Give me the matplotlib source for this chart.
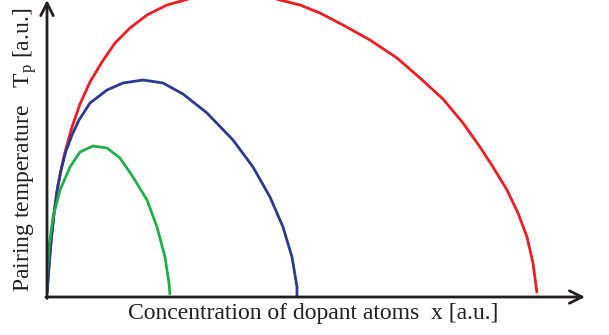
import matplotlib
matplotlib.use("Agg")
import matplotlib.pyplot as plt

# curve points (x, T in a.u., origin at the axes corner)
red_x = [0, 2, 4, 7, 11, 17, 25, 33, 43, 55, 68, 83, 100, 120, 138, 160, 185, 210, 233,
         253, 273, 296, 323, 350, 373, 396, 416, 433, 446, 460, 471, 480, 486, 490]
red_y = [4, 30, 55, 84, 112, 141, 170, 193, 215, 235, 254, 269, 282, 292, 297, 303, 305, 303, 297,
         292, 284, 272, 257, 239, 219, 198, 174, 150, 130, 107, 84, 60, 34, 4]

blue_x = [0, 2, 4, 7, 10, 14, 19, 25, 32, 43, 60, 76, 96, 116, 136, 160, 186, 206, 223, 236, 245, 250, 250]
blue_y = [4, 30, 55, 83, 106, 127, 146, 162, 177, 194, 207, 214, 217, 214, 203, 184, 157, 130, 100, 70, 40, 10, 0]

green_x = [0, 0, 2, 6, 13, 23, 33, 46, 60, 73, 86, 100, 110, 118, 122, 123]
green_y = [4, 20, 50, 80, 107, 130, 145, 151, 149, 139, 120, 97, 70, 40, 14, 2]

xlabel = "Concentration of dopant atoms  x [a.u.]"
ylabel = r"Pairing temperature   $\mathregular{T_p}$ [a.u.]"

plt.rcParams['font.family'] = ['Liberation Serif', 'DejaVu Serif']

fig = plt.figure(figsize=(6.09, 3.35), dpi=100)
ax = fig.add_axes([47 / 609, 38 / 335, 538 / 609, 297 / 335])
ax.set_xlim(0, 538)
ax.set_ylim(0, 297)
ax.axis('off')

ax.plot(red_x, red_y, color='#ee1c24', lw=2.0, solid_capstyle='butt', solid_joinstyle='round')
ax.plot(blue_x, blue_y, color='#2b3990', lw=2.0, solid_capstyle='butt', solid_joinstyle='round')
ax.plot(green_x, green_y, color='#1fb04b', lw=2.0, solid_capstyle='butt', solid_joinstyle='round')

# axes drawn as arrows
arrow = dict(arrowstyle='->,head_length=0.9,head_width=0.45', color='#231f20', lw=2.0,
             shrinkA=0, shrinkB=0)
ax.annotate('', xy=(1.0, 0), xytext=(-0.002, 0), xycoords='axes fraction', arrowprops=arrow)
ax.annotate('', xy=(0, 1.0), xytext=(0, -0.005), xycoords='axes fraction', arrowprops=arrow)

fig.text(313 / 609, 1 - 314 / 335, xlabel, ha='center', va='center', fontsize=17, color='#231f20')
fig.text(25 / 609, 1 - 150 / 335, ylabel, ha='center', va='center', rotation=90,
         fontsize=17, color='#231f20')

fig.savefig('out.png', dpi=100)
